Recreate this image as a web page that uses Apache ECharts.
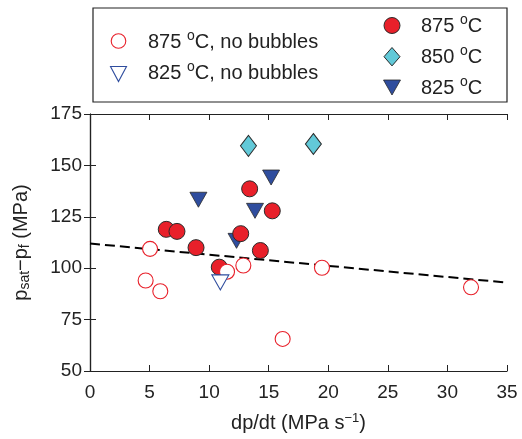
<!DOCTYPE html>
<html><head><meta charset="utf-8">
<script src="https://cdn.jsdelivr.net/npm/echarts@6/dist/echarts.min.js"></script>
<style>html,body{margin:0;padding:0;background:#fff}#c{width:522px;height:439px}</style>
</head><body><div id="c"></div>
<script>
// Data
const filled875 = [[6.4,118.9],[7.3,117.9],[8.9,110.0],[10.85,100.5],[12.65,116.8],[13.4,138.6],[14.3,108.6],[15.3,127.9]];
const filled850 = [[13.3,159.5],[18.75,160.4]];
const filled825 = [[9.1,133.3],[12.3,113.3],[13.85,127.9],[15.2,144.1]];
const open875 = [[4.67,94.0],[5.04,109.4],[5.9,88.8],[11.5,98.3],[12.87,101.3],[16.17,65.6],[19.47,100.2],[31.98,90.7]];
const open825 = [[10.94,93.1]];
const fitLine = [[0,112],[35,93]];
const xTicks = [0,5,10,15,20,25,30,35];
const yTicks = [50,75,100,125,150,175];
const names = ['875 °C, no bubbles','825 °C, no bubbles','875 °C','850 °C','825 °C'];

const FONT = 'Liberation Sans, Arial, Helvetica, sans-serif';
const TXT = '#222';
const RED = '#e8202a', CYAN = '#62c9d8', BLUE = '#2f4d9e', EDGE = '#2a2a2a';
const triDown = 'path://M0,0 L20,0 L10,18 Z';
const diamondPath = 'path://M10,0 L20,13 L10,26 L0,13 Z';

const supStyle = {fontSize:14, lineHeight:14, verticalAlign:'bottom', padding:[0,0,11,0], fontFamily:FONT, fill:TXT};
const legendFmt = n => n.replace('°', '{s|o}');

function legendText(x, y, name) {
  return {type:'text', x:x, y:y, z:100, silent:true,
    style:{text:legendFmt(name), fontSize:20, fontFamily:FONT, fill:TXT, verticalAlign:'middle', align:'left',
           lineHeight:25, rich:{s:supStyle}}};
}
function triPts(cx, cy, w, h) { return [[cx-w/2, cy-h/2],[cx+w/2, cy-h/2],[cx, cy+h/2]]; }

const legendGraphics = [
  {type:'rect', shape:{x:93, y:8, width:414, height:94}, style:{fill:'none', stroke:TXT, lineWidth:1.2}, z:100, silent:true},
  // left column
  {type:'circle', shape:{cx:118.5, cy:41, r:7.3}, style:{fill:'#fff', stroke:RED, lineWidth:1.1}, z:100, silent:true},
  legendText(148, 42, names[0]),
  {type:'polygon', shape:{points:triPts(118.5, 74, 16, 15)}, style:{fill:'#fff', stroke:BLUE, lineWidth:1.1}, z:100, silent:true},
  legendText(148, 73, names[1]),
  // right column
  {type:'circle', shape:{cx:392, cy:25.5, r:8}, style:{fill:RED, stroke:EDGE, lineWidth:1}, z:100, silent:true},
  legendText(421, 26, names[2]),
  {type:'polygon', shape:{points:[[392,47.5],[400,56.7],[392,65.9],[384,56.7]]}, style:{fill:CYAN, stroke:EDGE, lineWidth:1}, z:100, silent:true},
  legendText(421, 57, names[3]),
  {type:'polygon', shape:{points:triPts(392, 87.5, 17, 15)}, style:{fill:BLUE, stroke:EDGE, lineWidth:0.8}, z:100, silent:true},
  legendText(421, 88, names[4])
];

const axisCommon = {
  axisLine:{show:true, lineStyle:{color:TXT, width:1.2}},
  axisTick:{show:true, inside:true, length:6, lineStyle:{color:TXT, width:1}},
  splitLine:{show:false}
};

const option = {
  animation:false,
  backgroundColor:'#fff',
  textStyle:{fontFamily:FONT},
  grid:{left:90, top:114, right:15, bottom:61.5, containLabel:false},
  graphic:legendGraphics,
  xAxis:[
    Object.assign({}, axisCommon, {type:'value', min:xTicks[0], max:xTicks[xTicks.length-1], interval:5, position:'bottom',
      name:'dp/dt (MPa s{s|−1})', nameLocation:'middle', nameGap:41,
      nameTextStyle:{fontSize:20, color:TXT, fontFamily:FONT, lineHeight:22, rich:{s:{fontSize:13, verticalAlign:'top', fontFamily:FONT, color:TXT}}},
      axisLabel:{fontSize:19, color:TXT, margin:12, fontFamily:FONT}}),
    Object.assign({}, axisCommon, {type:'value', min:xTicks[0], max:xTicks[xTicks.length-1], interval:5, position:'top', axisLabel:{show:false}})
  ],
  yAxis:[
    Object.assign({}, axisCommon, {type:'value', min:yTicks[0], max:yTicks[yTicks.length-1], interval:25, position:'left',
      name:'p{b|sat}−p{b|f} (MPa)', nameLocation:'middle', nameGap:58, nameRotate:90,
      nameTextStyle:{fontSize:20, color:TXT, fontFamily:FONT, lineHeight:22, rich:{b:{fontSize:14, verticalAlign:'bottom', fontFamily:FONT, color:TXT}}},
      axisLabel:{fontSize:19, color:TXT, margin:8, fontFamily:FONT}}),
    Object.assign({}, axisCommon, {type:'value', min:yTicks[0], max:yTicks[yTicks.length-1], interval:25, position:'right', axisLabel:{show:false}})
  ],
  series:[
    {type:'line', data:fitLine, symbol:'none', silent:true, lineStyle:{color:'#000', width:2, type:[10,5]}, z:1},
    {name:names[4], type:'scatter', data:filled825, symbol:triDown, symbolSize:[17,15], symbolKeepAspect:false,
     itemStyle:{color:BLUE, borderColor:EDGE, borderWidth:0.8, opacity:1}, z:2},
    {name:names[2], type:'scatter', data:filled875, symbol:'circle', symbolSize:16,
     itemStyle:{color:RED, borderColor:EDGE, borderWidth:1, opacity:1}, z:3},
    {name:names[3], type:'scatter', data:filled850, symbol:diamondPath, symbolSize:[16,21], symbolKeepAspect:false,
     itemStyle:{color:CYAN, borderColor:EDGE, borderWidth:1, opacity:1}, z:3},
    {name:names[0], type:'scatter', data:open875, symbol:'circle', symbolSize:15,
     itemStyle:{color:'#fff', borderColor:RED, borderWidth:1.1, opacity:1}, z:4},
    {name:names[1], type:'scatter', data:open825, symbol:triDown, symbolSize:[17,15], symbolKeepAspect:false,
     itemStyle:{color:'#fff', borderColor:BLUE, borderWidth:1.1, opacity:1}, z:4}
  ]
};
const chart = echarts.init(document.getElementById('c'), null, {renderer:'canvas'});
chart.setOption(option);
</script></body></html>
